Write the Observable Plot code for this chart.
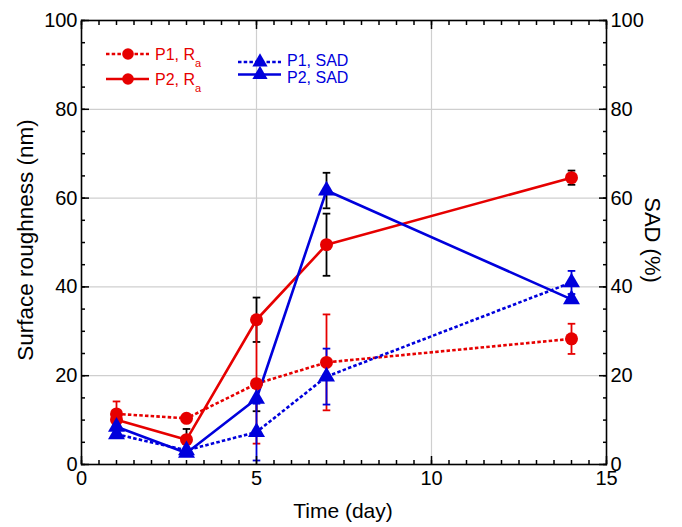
<!DOCTYPE html>
<html><head><meta charset="utf-8">
<script src="https://cdn.jsdelivr.net/npm/d3@7"></script>
<script src="https://cdn.jsdelivr.net/npm/@observablehq/plot@0.6"></script>
<style>
body{margin:0;background:#fff;}
#chart{position:relative;width:682px;height:527px;}
#legend{position:absolute;left:0;top:0;pointer-events:none;}
</style></head><body><div id="chart"></div>
<script>
// ---- data ----
const days = [1, 3, 5, 7, 14];
const p1Ra = [11.4, 10.4, 18.2, 23.0, 28.3];
const p1RaErr = [2.8, 0, 13.5, 10.8, 3.4];
const p2Ra = [10.1, 5.6, 32.6, 49.5, 64.6];
const p2RaErr = [0, 2.4, 5.0, 7.0, 1.6];
const p1Sad = [6.8, 3.2, 7.3, 19.8, 41.0];
const p1SadErr = [0, 0, 6.4, 6.3, 2.6];
const p2Sad = [8.5, 2.6, 14.8, 61.7, 37.2];
const p2SadErr = [0, 0, 2.8, 4.0, 0];
const xMajor = [0, 5, 10, 15];
const yMajor = [0, 20, 40, 60, 80, 100];
const seriesNames = ["P1, R", "P2, R", "P1, SAD", "P2, SAD"];
const xTitle = "Time (day)";
const yTitle = "Surface roughness (nm)";
const y2Title = "SAD (%)";

const FONT = '"Liberation Sans", Arial, Helvetica, sans-serif';
const RED = "#e60000", BLUE = "#0000dc";
const DASH = "3.5,2.2";

const series = [
  {name: seriesNames[0], sub: "a", values: p1Ra, errs: p1RaErr, color: RED, dash: DASH, symbol: "circle", errColor: RED},
  {name: seriesNames[1], sub: "a", values: p2Ra, errs: p2RaErr, color: RED, dash: null, symbol: "circle", errColor: "black"},
  {name: seriesNames[2], sub: "", values: p1Sad, errs: p1SadErr, color: BLUE, dash: DASH, symbol: "triangle", errColor: BLUE},
  {name: seriesNames[3], sub: "", values: p2Sad, errs: p2SadErr, color: BLUE, dash: null, symbol: "triangle", errColor: "black"}
];
const rowsOf = s => days.map((d, i) => ({day: d, value: s.values[i], err: s.errs[i], lo: s.values[i] - s.errs[i], hi: s.values[i] + s.errs[i]}));

const cap = {draw(ctx) { ctx.moveTo(-3.8, 0); ctx.lineTo(3.8, 0); }};

const errMarks = [], lineMarks = [], dotMarks = [];
const order = [1, 3, 0, 2];
for (const k of order) {
  const s = series[k];
  const rows = rowsOf(s).filter(r => r.err > 0);
  errMarks.push(
    Plot.ruleX(rows, {x: "day", y1: "lo", y2: "hi", stroke: s.errColor, strokeWidth: 1.8}),
    Plot.dot(rows, {x: "day", y: "lo", symbol: cap, r: 4, stroke: s.errColor, strokeWidth: 1.8, fill: "none"}),
    Plot.dot(rows, {x: "day", y: "hi", symbol: cap, r: 4, stroke: s.errColor, strokeWidth: 1.8, fill: "none"})
  );
}
for (const s of series) {
  const opts = {x: "day", y: "value", stroke: s.color, strokeWidth: 2.6, strokeLinecap: "butt", strokeLinejoin: "miter"};
  if (s.dash) opts.strokeDasharray = s.dash;
  lineMarks.push(Plot.line(rowsOf(s), opts));
  dotMarks.push(Plot.dot(rowsOf(s), {x: "day", y: "value", symbol: s.symbol, r: s.symbol === "circle" ? 6.5 : 6.3, fill: s.color, stroke: "none"}));
}

const none = () => "";
const plot = Plot.plot({
  width: 682, height: 527,
  marginLeft: 81, marginRight: 76, marginTop: 20, marginBottom: 63,
  style: {fontFamily: FONT, fontSize: "20px", color: "black", background: "white"},
  x: {domain: [0, 15]},
  y: {domain: [0, 100]},
  marks: [
    Plot.gridX({ticks: [5, 10], stroke: "#cfcfcf", strokeOpacity: 1, strokeWidth: 1.2}),
    Plot.gridY({ticks: [20, 40, 60, 80], stroke: "#cfcfcf", strokeOpacity: 1, strokeWidth: 1.2}),
    ...errMarks,
    ...lineMarks,
    ...dotMarks,
    Plot.frame({stroke: "black", strokeWidth: 1.6}),
    Plot.axisX({ticks: d3.range(0, 15.01, 0.5), tickSize: -4, tickFormat: none, label: null, strokeWidth: 1.5}),
    Plot.axisX({anchor: "top", ticks: d3.range(0, 15.01, 0.5), tickSize: -4, tickFormat: none, label: null, strokeWidth: 1.5}),
    Plot.axisY({ticks: d3.range(0, 100.01, 5), tickSize: -4, tickFormat: none, label: null, strokeWidth: 1.5}),
    Plot.axisY({anchor: "right", ticks: d3.range(0, 100.01, 5), tickSize: -4, tickFormat: none, label: null, strokeWidth: 1.5}),
    Plot.axisX({ticks: xMajor, tickSize: -8, tickPadding: 14, strokeWidth: 1.5, label: null}),
    Plot.axisX({anchor: "top", ticks: xMajor, tickSize: -8, tickFormat: none, label: null, strokeWidth: 1.5}),
    Plot.axisY({ticks: yMajor, tickSize: -8, tickPadding: 12, strokeWidth: 1.5, label: null}),
    Plot.axisY({anchor: "right", ticks: yMajor, tickSize: -8, tickPadding: 12, strokeWidth: 1.5, label: null})
  ]
});
const chart = document.getElementById("chart");
chart.appendChild(plot);

// ---- titles + legend overlay ----
const lg = d3.select(chart).append("svg").attr("id", "legend").attr("width", 682).attr("height", 527)
  .style("font-family", FONT);
lg.append("text").attr("x", 343).attr("y", 518).attr("text-anchor", "middle").attr("font-size", 21).text(xTitle);
lg.append("text").attr("transform", "translate(33,240) rotate(-90)").attr("text-anchor", "middle").attr("font-size", 22.5).text(yTitle);
lg.append("text").attr("transform", "translate(645,240) rotate(90)").attr("text-anchor", "middle").attr("font-size", 22).text(y2Title);

const items = [
  {s: series[0], x: 106, y: 54, tb: 60},
  {s: series[1], x: 106, y: 79, tb: 85},
  {s: series[2], x: 238, y: 62, tb: 65.5},
  {s: series[3], x: 238, y: 74.5, tb: 83}
];
for (const it of items) {
  const s = it.s;
  lg.append("line").attr("x1", it.x).attr("x2", it.x + 43).attr("y1", it.y).attr("y2", it.y)
    .attr("stroke", s.color).attr("stroke-width", 2.6).attr("stroke-dasharray", s.dash || null);
  if (s.symbol === "circle") {
    lg.append("circle").attr("cx", it.x + 22).attr("cy", it.y).attr("r", 5.8).attr("fill", s.color);
  } else {
    lg.append("path").attr("d", d3.symbol(d3.symbolTriangle, 100)()).attr("transform", `translate(${it.x + 22},${it.y})`).attr("fill", s.color);
  }
  const t = lg.append("text").attr("x", it.x + 49).attr("y", it.tb).attr("fill", s.color).attr("font-size", 16).text(s.name);
  if (s.sub) t.append("tspan").attr("font-size", 11).attr("dy", 7).text(s.sub);
}
</script></body></html>
